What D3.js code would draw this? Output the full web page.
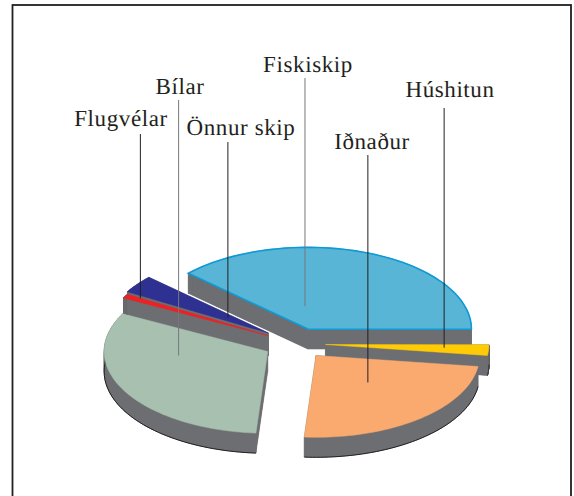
<!DOCTYPE html>
<html>
<head>
<meta charset="utf-8">
<script src="https://cdn.jsdelivr.net/npm/d3@7"></script>
<style>
html,body{margin:0;padding:0;background:#fff}
svg{display:block}
text{font-family:"Liberation Serif",serif;font-size:23px;letter-spacing:0.6px;fill:#231f20;text-rendering:geometricPrecision}
</style>
</head>
<body>
<svg id="chart"></svg>
<script>
var categories=["Fiskiskip","Húshitun","Iðnaður","Bílar","Flugvélar","Önnur skip"];
var shares=[38.1,2.1,24.0,31.5,0.8,3.5];
var colors=["#58b5d6","#ffcb05","#fbaa6f","#a8c0b0","#ed2024","#2e3192"];

// how far each slice is pulled out of the pie
var explode=[31,29,31,33,32,35];
// where each leader line lands: share of the slice's angle, share of the radius
var leaderAngle=[0.316,0.38,0.444,0.712,0.98,0.55];
var leaderRadius=[0.28,0.727,0.457,0.547,0.908,0.312];
var leaderTop=[78,108,155,100,134,142];
var leaderColors=["#77787b","#231f20","#231f20","#77787b","#231f20","#231f20"];
var labelX=[308,450,372,180,121,241];
var labelY=[71.5,96.5,149,94,126,134.5];

// painted back to front
var drawOrder=[0,5,4,3,1,2];

var screen={width:574,height:496};
var center={x:296.5,y:343.5};
var radius=163.5;
var tilt=0.5;
var depth=20;
var wallColor="#6d6e71";

var svg=d3.select("#chart")
    .attr("width",screen.width)
    .attr("height",screen.height);

svg.append("rect")
    .attr("x",12.5)
    .attr("y",5)
    .attr("width",558.5)
    .attr("height",520)
    .attr("fill","none")
    .attr("stroke","#231f20")
    .attr("stroke-width",1.8);

var pie=d3.pie()
    .sort(null)
    .startAngle(-47*Math.PI/180)
    .endAngle(313*Math.PI/180);

var slices=pie(shares);

var project=function(i,angle,r)
    {
        var mid=(slices[i].startAngle+slices[i].endAngle)/2;
        return {
            x:center.x+explode[i]*Math.sin(mid)+r*Math.sin(angle),
            y:center.y+(-explode[i]*Math.cos(mid)-r*Math.cos(angle))*tilt
        };
    };

var line=d3.line().x(function(p){return p.x}).y(function(p){return p.y});

var arcPoints=function(i,r)
    {
        var s=slices[i];
        var n=60;
        return d3.range(n+1).map(function(k)
            {
                return project(i,s.startAngle+(s.endAngle-s.startAngle)*k/n,r);
            });
    };

var drop=function(p){return {x:p.x,y:p.y+depth}};

var pie3d=svg.append("g");

drawOrder.forEach(function(i)
    {
        var rim=arcPoints(i,radius);
        var apex=project(i,0,0);
        var g=pie3d.append("g").attr("class","slice");

        // walls: the top face pushed down, joined to it along every edge
        var outline=[apex].concat(rim);
        outline.forEach(function(p,k)
            {
                var q=outline[(k+1)%outline.length];
                g.append("path")
                    .attr("d",line([p,q,drop(q),drop(p)])+"Z")
                    .attr("fill",wallColor)
                    .attr("stroke",wallColor)
                    .attr("stroke-width",0.5);
            });
        g.append("path")
            .attr("d",line(outline.map(drop))+"Z")
            .attr("fill",wallColor);

        // dark edge along the foot of the rim
        g.append("path")
            .attr("d",line(rim.map(drop)))
            .attr("fill","none")
            .attr("stroke",i==0||i==5?wallColor:"#231f20")
            .attr("stroke-width",1);

        g.append("path")
            .attr("d",line(outline)+"Z")
            .attr("fill",colors[i])
            .attr("stroke",i==0?"#0f9ad6":colors[i])
            .attr("stroke-width",i==0?1.6:0.5);
    });

var labels=svg.append("g");
categories.forEach(function(name,i)
    {
        var s=slices[i];
        var end=project(i,s.startAngle+(s.endAngle-s.startAngle)*leaderAngle[i],radius*leaderRadius[i]);
        labels.append("line")
            .attr("x1",end.x)
            .attr("x2",end.x)
            .attr("y1",leaderTop[i])
            .attr("y2",end.y)
            .attr("stroke",leaderColors[i])
            .attr("stroke-width",1);
        labels.append("text")
            .text(name)
            .attr("text-anchor","middle")
            .attr("x",labelX[i])
            .attr("y",labelY[i]);
    });
</script>
</body>
</html>
